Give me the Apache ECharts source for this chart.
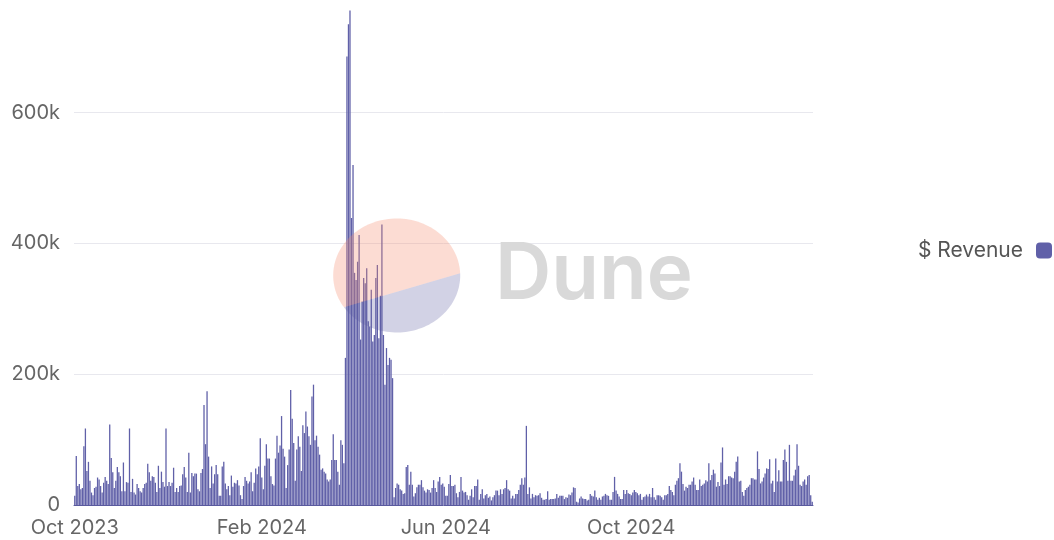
<!DOCTYPE html>
<html>
<head>
<meta charset="utf-8">
<script src="https://cdn.jsdelivr.net/npm/echarts@6/dist/echarts.min.js"></script>
<style>
html,body{margin:0;padding:0;background:#ffffff;}
#chart{width:1054px;height:540px;}
</style>
</head>
<body>
<div id="chart"></div>
<script>
// ---- data (daily revenue, thousands of USD) ----
const startDate = '2023-10-01';
const seriesName = '$ Revenue';
const tickDates = ['2023-10-01', '2024-02-01', '2024-06-01', '2024-10-01'];
const tickLabels = ['Oct 2023', 'Feb 2024', 'Jun 2024', 'Oct 2024'];

const revenue2023Q4 = [14,75,29,32,24,26,90,117,52,66,37,19,15,26,28,42,39,29,19,34,43,37,32,123,72,50,26,37,58,50,44,21,65,21,35,34,117,20,40,19,16,32,26,21,19,26,32,34,63,50,37,44,43,34,20,60,26,51,35,28,117,29,35,29,34,57,20,26,20,29,30,47,58,42];
const revenueEarly2024 = [20,80,19,49,44,48,48,24,21,49,55,153,93,174,74,26,59,33,47,61,47,14,14,59,66,33,24,29,15,45,28,34,33,38,30,15,9,29,43,37,33,36,50,21,34,56,47,59,102,42,24,60,93,71,71,44,32,30,71,106,80,91,136,86,74,26,61,85,176,132,95,37,85,105,89,52,122,110,143,120,105,92];
const revenuePreSpike = [166,184,99,106,89,77,54,56,51,48,39,36,39,69,108,69,69,51,31,99,92,64];
const revenueSpike = [225,686,735,756,439,520,355,344,372,413,253,311,347,339,362,281,273,329,250,260,347,367,255,320,429,260,184,240,214,225,222,194];
const revenueMid2024 = [12,26,33,31,24,22,17,18,58,61,31,51,31,13,18,27,31,31,38,27,22,19,24,23,19,26,38,26,20,36,43,31,33,28,14,14,32,46,29,29,31,18,12,20,43,22,19,20,15,8,14,24,12,29,29,39,8,17,24,10,15,17,11,13,7,12,15,22,22,15,24,17,24,26,38,24,22,10,14,10,17,17,23,31,41,31,42,121,17,27,10,17,12];
const revenueAutumn2024 = [15,14,15,18,11,8,8,9,21,8,9,9,9,10,17,11,14,14,14,9,12,11,16,15,19,27,26,5,4,10,13,10,9,9,7,8,17,14,13,22,12,8,11,8,13,14,17,15,14,8,8,20,43,22,17,13,9,9,23,17,23,18,17,15,19,23,20,18,15,17,8,12,13,16,13,17,12,26,12,8,15,15,14,12,8,15,15,17,29];
const revenueWinter2024 = [23,20,15,31,37,41,64,51,32,22,28,26,31,31,36,42,31,23,23,39,29,31,33,38,36,64,38,46,54,48,28,35,29,65,88,31,39,32,44,44,42,41,51,66,74,36,37,20,14,23,26,28,31,41,41,39,39,82,55,33,36,42,48,56,55,70,33,37,20,71,36,53,36,36,69,85,66,37,92,37,37,45,54,93,60,31,29,36,39,31,44,46,15,5];

const revenue = [].concat(revenue2023Q4, revenueEarly2024, revenuePreSpike, revenueSpike,
  revenueMid2024, revenueAutumn2024, revenueWinter2024);

function buildDates(start, n) {
  const out = [];
  const d = new Date(start + 'T00:00:00Z');
  for (let i = 0; i < n; i++) {
    out.push(d.toISOString().slice(0, 10));
    d.setUTCDate(d.getUTCDate() + 1);
  }
  return out;
}
const dates = buildDates(startDate, revenue.length);

// ---- watermark geometry (decoration only) ----
const wm = { cx: 396.7, cy: 275.5, rx: 63.5, ry: 57, split1: 146, split2: -2.2 };
function arcPoints(fromDeg, toDeg, steps) {
  const pts = [];
  for (let k = 0; k <= steps; k++) {
    const a = (fromDeg + (toDeg - fromDeg) * k / steps) * Math.PI / 180;
    pts.push([wm.cx + wm.rx * Math.cos(a), wm.cy + wm.ry * Math.sin(a)]);
  }
  return pts;
}
const pinkPts = arcPoints(wm.split1, 360 + wm.split2, 80);
const lavPts = arcPoints(wm.split2, wm.split1, 60);

const FONT = 'Inter, "Noto Sans", sans-serif';
const chart = echarts.init(document.getElementById('chart'), null, { renderer: 'canvas' });
chart.setOption({
  animation: false,
  backgroundColor: '#ffffff',
  grid: { left: 74, right: 241, top: 8, bottom: 35, containLabel: false },
  legend: {
    data: [seriesName],
    right: 2,
    top: 240,
    padding: 0,
    orient: 'vertical',
    align: 'right',
    icon: 'roundRect',
    itemWidth: 16,
    itemHeight: 16,
    textStyle: { fontSize: 21, color: '#555555', fontFamily: FONT, padding: [0, 8, 0, 0] }
  },
  xAxis: {
    type: 'category',
    data: dates,
    boundaryGap: true,
    axisTick: { show: false },
    axisLine: { show: true, lineStyle: { color: '#5a5a9e', width: 1 } },
    axisLabel: {
      interval: function (idx, val) { return tickDates.indexOf(val) >= 0; },
      formatter: function (val) { const i = tickDates.indexOf(val); return i >= 0 ? tickLabels[i] : ''; },
      fontSize: 20,
      color: '#666666',
      fontFamily: FONT,
      margin: 13
    },
    splitLine: { show: false }
  },
  yAxis: {
    type: 'value',
    min: 0,
    max: 760,
    interval: 200,
    axisLine: { show: false },
    axisTick: { show: false },
    axisLabel: {
      formatter: function (v) { return v === 0 ? '0' : v + 'k'; },
      showMaxLabel: false,
      fontSize: 20,
      color: '#666666',
      fontFamily: FONT,
      margin: 14
    },
    splitLine: { show: true, showMaxLine: false, showMinLine: false, lineStyle: { color: '#e8e8ee', width: 1 } }
  },
  series: [{
    name: seriesName,
    type: 'bar',
    data: revenue,
    barCategoryGap: '15%',
    itemStyle: { color: '#6060a8' }
  }],
  graphic: [
    { type: 'polygon', z: 100, silent: true, shape: { points: pinkPts }, style: { fill: 'rgba(246,140,110,0.30)' } },
    { type: 'polygon', z: 100, silent: true, shape: { points: lavPts }, style: { fill: 'rgba(90,90,160,0.27)' } },
    { type: 'text', z: 100, silent: true, style: { text: 'Dune', x: 495, y: 276, font: '600 78px ' + FONT, fill: '#d9d9d9', align: 'left', verticalAlign: 'middle' } }
  ]
});
</script>
</body>
</html>
